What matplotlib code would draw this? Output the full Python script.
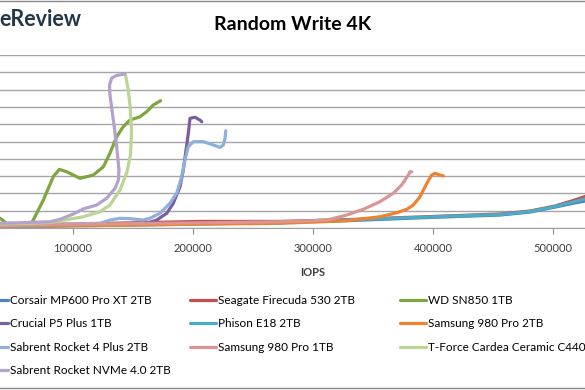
import matplotlib.pyplot as plt
from matplotlib.lines import Line2D

# Данные (IOPS / задержка)
ssd_names = ["Corsair MP600 Pro XT 2TB", "Seagate Firecuda 530 2TB", "WD SN850 1TB",
             "Crucial P5 Plus 1TB", "Phison E18 2TB", "Samsung 980 Pro 2TB",
             "Sabrent Rocket 4 Plus 2TB", "Samsung 980 Pro 1TB",
             "T-Force Cardea Ceramic C440", "Sabrent Rocket NVMe 4.0 2TB"]
ssd_colors = ["#4f81bd", "#c0504d", "#7fa540", "#7b5ea0", "#4bacc6", "#ed8330",
              "#8fb0dc", "#d99694", "#bcd594", "#b3a2cc"]

big_x = [22500, 39200, 122500, 205800, 272500, 330800, 397500, 455800, 480800, 501700, 518300, 526700, 547500]
corsair_y = [0.06, 0.09, 0.17, 0.26, 0.31, 0.43, 0.61, 0.75, 0.92, 1.21, 1.45, 1.56, 2.20]
seagate_y = [0.12, 0.14, 0.26, 0.38, 0.38, 0.49, 0.66, 0.81, 0.98, 1.27, 1.62, 1.82, 2.49]
phison_y = [0.06, 0.07, 0.14, 0.23, 0.32, 0.47, 0.64, 0.78, 0.95, 1.24, 1.53, 1.68, 2.31]

wd_x = [25000, 39200, 44800, 64200, 66900, 75300, 83600, 88600, 94800, 105800, 116900,
        125300, 130800, 136400, 141900, 147500, 155800, 161400, 166900, 173100]
wd_y = [0.90, 0.56, 0.27, 0.21, 0.46, 1.62, 2.97, 3.39, 3.25, 2.87, 3.06,
        3.54, 4.32, 5.28, 5.86, 6.24, 6.43, 6.72, 7.11, 7.36]

crucial_x = [22500, 39200, 122500, 161400, 169800, 178100, 183600, 189200, 191900,
             194200, 196100, 197500, 201700, 205800, 207300]
crucial_y = [0.08, 0.12, 0.17, 0.27, 0.46, 0.85, 1.43, 2.39, 3.35,
             4.51, 5.47, 6.34, 6.40, 6.24, 6.14]

s980_2tb_x = [22500, 39200, 122500, 205800, 272500, 328100, 355800, 369800, 378100,
              383600, 389200, 394800, 398900, 401700, 405800, 408600]
s980_2tb_y = [0.06, 0.10, 0.15, 0.22, 0.27, 0.42, 0.65, 0.88, 1.08,
              1.33, 1.81, 2.58, 3.06, 3.16, 3.06, 3.01]

rocket4_x = [22500, 39200, 122500, 130800, 139200, 147500, 158600, 164200, 172500, 180800, 186400,
             190600, 193300, 196100, 200300, 208600, 216900, 222500, 225300, 226700, 227300]
rocket4_y = [0.12, 0.14, 0.27, 0.46, 0.56, 0.54, 0.46, 0.56, 0.85, 1.43, 2.01,
             2.97, 3.93, 4.70, 4.99, 4.99, 4.80, 4.66, 4.80, 5.18, 5.62]

s980_1tb_x = [22500, 39200, 122500, 205800, 272500, 300300, 314200, 328100, 341900,
              355800, 366900, 373900, 379400, 380800, 382300]
s980_1tb_y = [0.12, 0.17, 0.23, 0.30, 0.36, 0.42, 0.50, 0.75, 1.08,
              1.52, 2.01, 2.49, 3.06, 3.25, 3.25]

tforce_x = [22500, 39200, 80800, 108600, 122500, 130800, 139200, 145000, 147900,
            148800, 147500, 145800, 143800, 143300]
tforce_y = [0.18, 0.23, 0.31, 0.65, 0.94, 1.33, 2.20, 3.24, 4.22,
            5.66, 7.11, 8.09, 8.82, 8.90]

rocket_nvme_x = [22500, 39200, 80800, 89200, 100300, 108600, 119800, 128100, 135000,
                 137800, 138300, 136700, 134200, 130800, 130400, 132300, 136400, 143300]
rocket_nvme_y = [0.22, 0.27, 0.36, 0.50, 0.81, 1.10, 1.33, 1.72, 2.29,
                 2.77, 3.35, 4.51, 5.95, 7.69, 8.27, 8.67, 8.82, 8.90]

series = [(big_x, corsair_y), (big_x, seagate_y), (wd_x, wd_y), (crucial_x, crucial_y),
          (big_x, phison_y), (s980_2tb_x, s980_2tb_y), (rocket4_x, rocket4_y),
          (s980_1tb_x, s980_1tb_y), (tforce_x, tforce_y), (rocket_nvme_x, rocket_nvme_y)]
x_ticks = [100000, 200000, 300000, 400000, 500000]

plt.rcParams['font.family'] = ['Lato', 'DejaVu Sans']
W, H = 585, 390
fig = plt.figure(figsize=(W / 100, H / 100), dpi=100)

# область графика шире картинки - как на обрезанном скриншоте
ax = fig.add_axes([-47 / W, (H - 228) / H, 720 / W, 173 / H])
handles = []
for (xs, ys), name, col in zip(series, ssd_names, ssd_colors):
    ln, = ax.plot(xs, ys, color=col, lw=2.3, label=name, solid_capstyle='round')
    handles.append(ln)

ax.set_xlim(0, 600000)
ax.set_ylim(0, 10)
ax.set_yticks(range(0, 11))
ax.set_xticks(x_ticks)
ax.set_xticklabels([str(t) for t in x_ticks])
ax.yaxis.grid(True, color='#a6a6a6', lw=1)
ax.set_axisbelow(True)
for s in ['left', 'right', 'top']:
    ax.spines[s].set_visible(False)
ax.spines['bottom'].set_color('#a0a0a0')
ax.tick_params(axis='x', colors='#8c8c8c', length=4, labelcolor='#404040', labelsize=8, pad=7)
ax.tick_params(axis='y', length=0, labelleft=False)
ax.set_xlabel("IOPS", fontsize=8, fontweight='bold', color='#404040', labelpad=9)

fig.text(-1 / W, 1 - 19 / H, "eReview", fontsize=15.5, fontweight='bold', color='#243746',
         va='center', ha='left')
fig.text(293 / W, 1 - 25 / H, "Random Write 4K", fontsize=14, fontweight='bold', va='center', ha='center')

# легенда: три колонки вручную
cols = [[0, 3, 6, 9], [1, 4, 7], [2, 5, 8]]
col_x = [-18, 190, 400]
for idx, cx in zip(cols, col_x):
    fig.legend([handles[i] for i in idx], [ssd_names[i] for i in idx],
               loc='upper left', bbox_to_anchor=(cx / W, 1 - 295 / H),
               frameon=False, fontsize=8.5, handlelength=2.2, handletextpad=0.2,
               labelspacing=1.05, borderpad=0, borderaxespad=0)

fig.add_artist(Line2D([0, 1], [1 - 0.5 / H, 1 - 0.5 / H], color='#888888', lw=1))
fig.add_artist(Line2D([0, 1], [1 - 388 / H, 1 - 388 / H], color='#888888', lw=1))

fig.savefig("out.png", dpi=100)
